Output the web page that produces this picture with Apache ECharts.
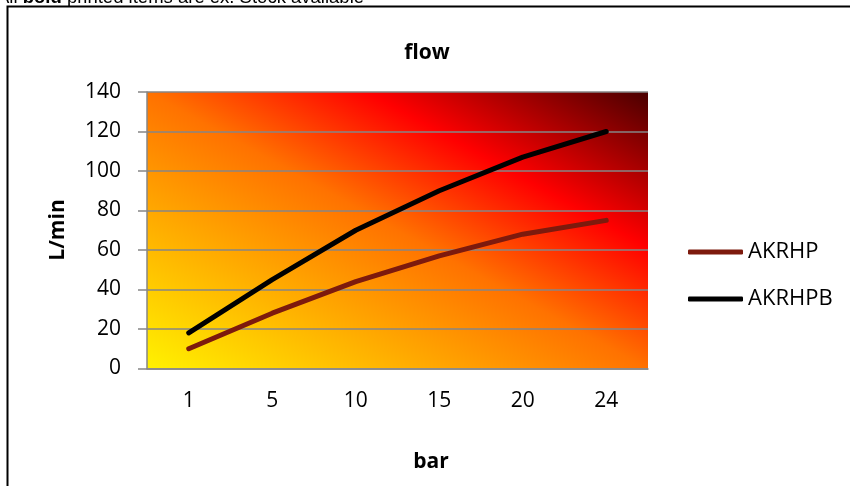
<!DOCTYPE html>
<html>
<head>
<meta charset="utf-8">
<script src="https://cdn.jsdelivr.net/npm/echarts@6/dist/echarts.min.js"></script>
<style>html,body{margin:0;padding:0;background:#fff}#c{width:850px;height:486px}</style>
</head>
<body>
<div id="c"></div>
<script>
var categories = ['1', '5', '10', '15', '20', '24'];
var akrhp = [10, 28, 44, 57, 68, 75];
var akrhpb = [18, 45, 70, 90, 107, 120];
var yTicks = { min: 0, max: 140, interval: 20 };

var chart = echarts.init(document.getElementById('c'));
var font = '"Open Sans", Lato, sans-serif';
chart.setOption({
  animation: false,
  grid: {
    left: 147, right: 202, top: 92, bottom: 117.5,
    show: true, borderWidth: 0,
    backgroundColor: {
      type: 'linear', x: 0, y: 1, x2: 0.468, y2: -0.532,
      colorStops: [
        { offset: 0, color: '#FFF200' },
        { offset: 0.5, color: '#FF7200' },
        { offset: 0.72, color: '#FF0000' },
        { offset: 1, color: '#4A0000' }
      ]
    }
  },
  legend: {
    orient: 'vertical', left: 688, top: 241, itemGap: 25, padding: 0,
    itemWidth: 55, itemHeight: 5,
    textStyle: { fontFamily: font, fontSize: 22, color: '#000' },
    data: [{ name: 'AKRHP', icon: 'roundRect' }, { name: 'AKRHPB', icon: 'roundRect' }]
  },
  xAxis: {
    type: 'category', data: categories, boundaryGap: true,
    axisLine: { lineStyle: { color: '#868686', width: 1.5 } },
    axisTick: { show: false },
    axisLabel: { fontFamily: font, fontSize: 21, color: '#000', margin: 22 }
  },
  yAxis: {
    type: 'value', min: yTicks.min, max: yTicks.max, interval: yTicks.interval,
    axisLine: { show: true, lineStyle: { color: '#868686', width: 1.5 } },
    axisTick: { show: true, length: 9, lineStyle: { color: '#868686', width: 1.5 } },
    splitLine: { lineStyle: { color: '#868686', width: 1.5 } },
    axisLabel: { fontFamily: font, fontSize: 21, color: '#000', margin: 26 }
  },
  series: [
    { name: 'AKRHP', type: 'line', data: akrhp, symbol: 'none', color: '#7D1A0D',
      lineStyle: { width: 5, cap: 'round', join: 'round' } },
    { name: 'AKRHPB', type: 'line', data: akrhpb, symbol: 'none', color: '#000000',
      lineStyle: { width: 5, cap: 'round', join: 'round' } }
  ],
  graphic: [
    { type: 'rect', shape: { x: 7.5, y: 6.5, width: 900, height: 600 },
      style: { fill: 'none', stroke: '#000', lineWidth: 2 }, z: -1 },
    { type: 'text', x: -3, y: 7,
      style: { rich: { n: { fontFamily: 'Liberation Sans, Arial', fontSize: 18.5, fill: '#000' },
                       b: { fontFamily: 'Liberation Sans, Arial', fontSize: 18.5, fontWeight: 'bold', fill: '#000' } },
               text: '{n|All }{b|bold}{n| printed items are ex. Stock available}',
               verticalAlign: 'bottom', align: 'left' } },
    { type: 'text', x: 427, y: 53,
      style: { text: 'flow', fontFamily: font, fontSize: 21, fontWeight: 'bold', fill: '#000', align: 'center', verticalAlign: 'middle' } },
    { type: 'text', x: 431, y: 462,
      style: { text: 'bar', fontFamily: font, fontSize: 21, fontWeight: 'bold', fill: '#000', align: 'center', verticalAlign: 'middle' } },
    { type: 'text', x: 58, y: 230, rotation: Math.PI / 2,
      style: { text: 'L/min', fontFamily: font, fontSize: 21, fontWeight: 'bold', fill: '#000', align: 'center', verticalAlign: 'middle' } }
  ]
});
</script>
</body>
</html>
